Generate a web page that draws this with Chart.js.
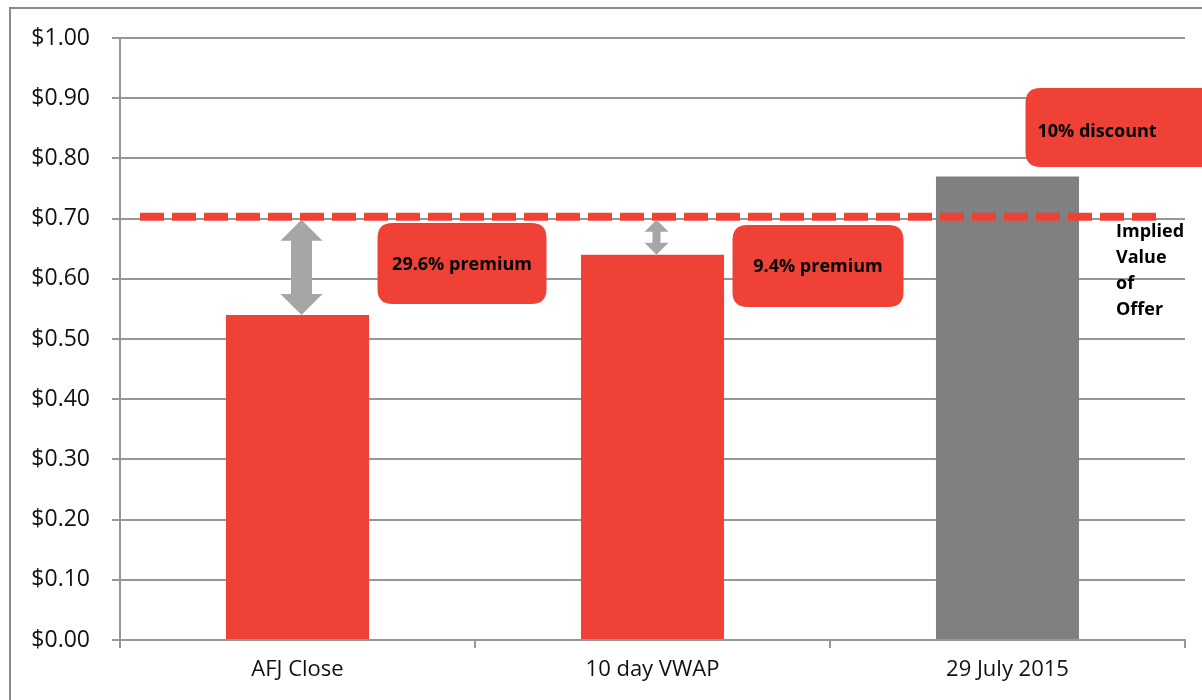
<!DOCTYPE html>
<html>
<head>
<meta charset="utf-8">
<script src="https://cdn.jsdelivr.net/npm/chart.js@4/dist/chart.umd.min.js"></script>
<style>
  html, body { margin: 0; padding: 0; background: #fff; overflow: hidden; }
  #offerChart { display: block; }
</style>
</head>
<body>
<canvas id="offerChart" width="1202" height="700"></canvas>
<script>
// values
var categories = ['AFJ Close', '10 day VWAP', '29 July 2015'];
var prices = [0.54, 0.64, 0.77];
var barColors = ['#ef4136', '#ef4136', '#808080'];
var impliedValue = 0.703;
var impliedLabel = ['Implied', 'Value', 'of', 'Offer'];
var callouts = ['29.6% premium', '9.4% premium', '10% discount'];
var showArrow = [true, true, false];

var RED = '#ef4136';
var GRID = '#979797';
var FONT = "'Open Sans', 'DejaVu Sans', sans-serif";

function roundBox(ctx, x, y, w, h, r) {
    ctx.beginPath();
    ctx.moveTo(x + r, y);
    ctx.lineTo(x + w - r, y);
    ctx.quadraticCurveTo(x + w, y, x + w, y + r);
    ctx.lineTo(x + w, y + h - r);
    ctx.quadraticCurveTo(x + w, y + h, x + w - r, y + h);
    ctx.lineTo(x + r, y + h);
    ctx.quadraticCurveTo(x, y + h, x, y + h - r);
    ctx.lineTo(x, y + r);
    ctx.quadraticCurveTo(x, y, x + r, y);
    ctx.closePath();
}

function doubleArrow(ctx, cx, top, bottom, headW, headH, shaftW) {
    ctx.beginPath();
    ctx.moveTo(cx, top);
    ctx.lineTo(cx + headW / 2, top + headH);
    ctx.lineTo(cx + shaftW / 2, top + headH);
    ctx.lineTo(cx + shaftW / 2, bottom - headH);
    ctx.lineTo(cx + headW / 2, bottom - headH);
    ctx.lineTo(cx, bottom);
    ctx.lineTo(cx - headW / 2, bottom - headH);
    ctx.lineTo(cx - shaftW / 2, bottom - headH);
    ctx.lineTo(cx - shaftW / 2, top + headH);
    ctx.lineTo(cx - headW / 2, top + headH);
    ctx.closePath();
    ctx.fill();
}

var framePlugin = {
    id: 'frame',
    beforeDraw: function(chart) {
        var ctx = chart.ctx;
        ctx.save();
        ctx.strokeStyle = '#8a8a8a';
        ctx.lineWidth = 2;
        ctx.strokeRect(10, 8, 1400, 900);
        ctx.restore();
    }
};

var overlayPlugin = {
    id: 'overlay',
    afterDatasetsDraw: function(chart) {
        var ctx = chart.ctx;
        var x = chart.scales.x, y = chart.scales.y;
        var area = chart.chartArea;
        var yImp = y.getPixelForValue(impliedValue);
        ctx.save();

        // dashed implied value line
        ctx.strokeStyle = RED;
        ctx.lineWidth = 8;
        ctx.setLineDash([24, 8]);
        ctx.beginPath();
        ctx.moveTo(area.left + 20, yImp);
        ctx.lineTo(area.right - 21, yImp);
        ctx.stroke();
        ctx.setLineDash([]);

        // grey double arrows between bar top and implied value
        ctx.fillStyle = '#a6a6a6';
        prices.forEach(function(p, i) {
            if (!showArrow[i]) return;
            var cx = x.getPixelForValue(i) + 4;
            var top = yImp + 3;
            var bottom = y.getPixelForValue(p);
            if (i === 0) doubleArrow(ctx, cx, top, bottom, 42, 21, 21);
            else doubleArrow(ctx, cx, top, bottom, 24, 12, 8);
        });

        // callout boxes
        var step = x.getPixelForValue(1) - x.getPixelForValue(0);
        var boxes = [
            { x: x.getPixelForValue(0) + 80, y: 223, w: 169, h: 81, align: 'center' },
            { x: x.getPixelForValue(1) + 80, y: 225, w: 171, h: 82, align: 'center' },
            { x: x.getPixelForValue(2) + 18, y: 88, w: step, h: 79, align: 'left' }
        ];
        ctx.font = 'bold 18px ' + FONT;
        ctx.textBaseline = 'middle';
        boxes.forEach(function(b, i) {
            ctx.fillStyle = RED;
            roundBox(ctx, b.x, b.y, b.w, b.h, 15);
            ctx.fill();
            ctx.fillStyle = '#000';
            if (b.align === 'center') {
                ctx.textAlign = 'center';
                ctx.fillText(callouts[i], b.x + b.w / 2, b.y + b.h / 2 + 1);
            } else {
                ctx.textAlign = 'left';
                ctx.fillText(callouts[i], b.x + 12, b.y + b.h / 2 + 4);
            }
        });

        // implied value label
        ctx.textAlign = 'left';
        ctx.fillStyle = '#000';
        impliedLabel.forEach(function(t, i) {
            ctx.fillText(t, area.right - 69, yImp + 15 + i * 26);
        });
        ctx.restore();
    }
};

var ctx = document.getElementById('offerChart').getContext('2d');
var offerChart = new Chart(ctx, {
    type: 'bar',
    data: {
        labels: categories,
        datasets: [{
            label: 'Price',
            data: prices,
            backgroundColor: barColors,
            borderWidth: 0,
            barPercentage: 0.403,
            categoryPercentage: 1
        }]
    },
    options: {
        responsive: false,
        animation: false,
        devicePixelRatio: 1,
        layout: { padding: { top: 38, right: 17, left: 0, bottom: 0 } },
        plugins: {
            legend: { display: false },
            tooltip: { enabled: false }
        },
        scales: {
            x: {
                afterFit: function(s) { s.height = 60; },
                grid: {
                    offset: true,
                    drawOnChartArea: false,
                    drawTicks: true,
                    tickLength: 8,
                    color: GRID,
                    lineWidth: 2
                },
                border: { color: GRID, width: 2 },
                ticks: {
                    color: '#111',
                    font: { family: FONT, size: 22 },
                    padding: 9,
                    maxRotation: 0
                }
            },
            y: {
                min: 0,
                max: 1,
                afterFit: function(s) { s.width = 120; },
                grid: {
                    color: GRID,
                    lineWidth: 2,
                    tickLength: 8
                },
                border: { color: GRID, width: 2 },
                ticks: {
                    stepSize: 0.1,
                    color: '#111',
                    font: { family: FONT, size: 23 },
                    padding: 22,
                    callback: function(v) { return '$' + Number(v).toFixed(2); }
                }
            }
        }
    },
    plugins: [framePlugin, overlayPlugin]
});
</script>
</body>
</html>
